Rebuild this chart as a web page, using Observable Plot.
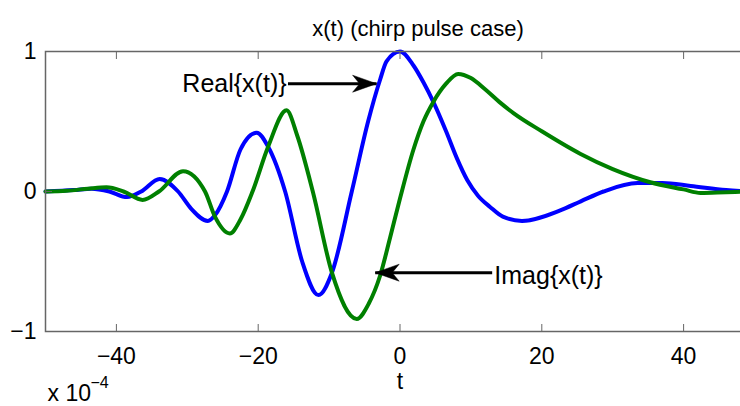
<!DOCTYPE html>
<html><head><meta charset="utf-8">
<script src="https://cdn.jsdelivr.net/npm/d3@7"></script>
<script src="https://cdn.jsdelivr.net/npm/@observablehq/plot@0.6"></script>
<style>
html,body{margin:0;padding:0;background:#fff;overflow:hidden;width:740px;height:406px;}
#chart{position:relative;width:740px;height:406px;overflow:hidden;}
#chart svg{max-width:none !important;}
</style></head><body><div id="chart"></div>
<script>
// ---- data (t in units of 1e-4) ----
const realT = [-50,-46,-43.5,-41,-38.5,-36.5,-33.9,-31.3,-29.5,-27.1,-26.1,-24.4,-22.5,-20.2,-18.6,-16.2,-13.8,-11.5,-9.6,-6.8,-4.5,-2.8,-1.9,0,1.9,3.3,4.7,6.5,8,9.5,11,12.7,14.5,17.2,22.6,25.5,28.7,33.5,37,41,46,50];
const realV = [0,0.01,0.02,0,-0.04,0,0.09,0,-0.12,-0.21,-0.17,0,0.3,0.42,0.32,0,-0.5,-0.74,-0.58,0,0.5,0.8,0.93,1.0,0.9,0.78,0.64,0.43,0.24,0.08,-0.03,-0.11,-0.18,-0.21,-0.135,-0.07,0,0.06,0.06,0.04,0.01,0];
const imagT = [-50,-47,-44,-41.4,-39,-36.3,-34,-30.6,-27.5,-26.1,-24,-22.5,-20.8,-18.6,-16,-14.5,-12.3,-9.6,-6.1,-4.4,-2.8,-1.4,0,1.9,3.3,4.7,6.5,8.2,10,12,14,16,20,25.4,30,35.3,40,42.4,46,50];
const imagV = [0,0.005,0.02,0.03,0,-0.06,0,0.145,0,-0.18,-0.3,-0.2,0,0.32,0.58,0.4,0,-0.58,-0.91,-0.8,-0.6,-0.33,-0.05,0.3,0.5,0.64,0.77,0.84,0.81,0.73,0.64,0.56,0.43,0.27,0.16,0.066,0.015,-0.01,-0.005,0];
const xTicks = [-40,-20,0,20,40];
const yTicks = [-1,0,1];
const titleText = "x(t) (chirp pulse case)";
const xLabel = "t";
const expBase = "x 10";
const expPow = "\u22124";
const annoText = ["Real{x(t)}", "Imag{x(t)}"];
const annoTextT = [-16.0, 13.3];
const annoTextV = [0.77, -0.6];
const annoAnchor = ["end", "start"];
const arrowFromT = [-15.8, 13.0];
const arrowToT = [-3.3, -3.5];
const arrowV = [0.77, -0.58];
const arrowDir = [0, 180];

const FONT = '"Liberation Sans", Arial, Helvetica, sans-serif';
const realData = realT.map((t,i)=>({t, v: realV[i]}));
const imagData = imagT.map((t,i)=>({t, v: imagV[i]}));
const annos = annoText.map((s,i)=>({s, t: annoTextT[i], v: annoTextV[i], a: annoAnchor[i]}));
const arrows = arrowFromT.map((t,i)=>({x1: t, x2: arrowToT[i], y: arrowV[i], rot: arrowDir[i]}));
const fmt = d3.format("d");

// concave (MATLAB-style) filled arrowhead, tip at the origin, pointing right
const arrowHead = {
  draw(ctx) {
    ctx.moveTo(0, 0);
    ctx.lineTo(-24, -8.5);
    ctx.lineTo(-17, 0);
    ctx.lineTo(-24, 8.5);
    ctx.closePath();
  }
};

const chart = Plot.plot({
  width: 760, height: 406,
  marginLeft: 45, marginRight: 6, marginTop: 51, marginBottom: 75,
  x: {domain: [-50, 50]},
  y: {domain: [-1, 1]},
  style: {fontFamily: FONT, fontSize: "23px", color: "#000", background: "#fff", overflow: "visible", maxWidth: "none"},
  marks: [
    Plot.line(realData, {x: "t", y: "v", stroke: "#0000ff", strokeWidth: 4, curve: "monotone-x"}),
    Plot.line(imagData, {x: "t", y: "v", stroke: "#008000", strokeWidth: 4, curve: "monotone-x"}),
    Plot.frame({stroke: "#666", strokeWidth: 1.5}),
    Plot.axisX(xTicks, {anchor: "bottom", tickSize: -7, tickPadding: 23, stroke: "#666", fill: "#000", fontSize: 23, label: null, tickFormat: fmt}),
    Plot.axisX(xTicks, {anchor: "top", tickSize: -7, stroke: "#666", tickFormat: () => "", label: null}),
    Plot.axisY(yTicks, {anchor: "left", tickSize: -7, tickPadding: 16, stroke: "#666", fill: "#000", fontSize: 23, label: null, tickFormat: fmt}),
    Plot.axisY(yTicks, {anchor: "right", tickSize: -7, stroke: "#666", tickFormat: () => "", label: null}),
    Plot.link(arrows, {x1: "x1", y1: "y", x2: "x2", y2: "y", stroke: "#000", strokeWidth: 3}),
    Plot.dot(arrows, {x: "x2", y: "y", symbol: arrowHead, rotate: "rot", fill: "#000", stroke: "#000", strokeWidth: 0.5, r: 5}),
    Plot.text(annos.filter(d=>d.a==="end"), {x: "t", y: "v", text: "s", textAnchor: "end", fontSize: 25, fill: "#000"}),
    Plot.text(annos.filter(d=>d.a==="start"), {x: "t", y: "v", text: "s", textAnchor: "start", fontSize: 25, fill: "#000"}),
    Plot.text([titleText], {frameAnchor: "top", dx: 18, dy: -31, fontSize: 22, fill: "#000"}),
    Plot.text([xLabel], {frameAnchor: "bottom", dy: 57, fontSize: 23, fill: "#000"}),
    Plot.text([expBase], {frameAnchor: "bottom-left", textAnchor: "start", lineAnchor: "bottom", dx: 2, dy: 69, fontSize: 23, fill: "#000"}),
    Plot.text([expPow], {frameAnchor: "bottom-left", textAnchor: "start", lineAnchor: "bottom", dx: 45, dy: 56, fontSize: 16, fill: "#000"})
  ]
});
document.getElementById("chart").appendChild(chart);
</script></body></html>
